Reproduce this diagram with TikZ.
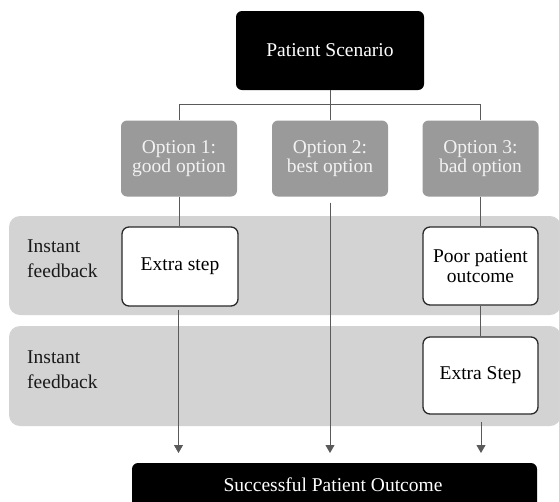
\documentclass[tikz,border=0pt]{standalone}
\usepackage{fontspec}
\setmainfont{Liberation Serif}
\usetikzlibrary{arrows.meta}
\definecolor{bandgray}{HTML}{D3D3D3}
\definecolor{optgray}{HTML}{9A9A9A}
\definecolor{opttext}{HTML}{F2F2F2}
\definecolor{linegray}{HTML}{5A5A5A}
\definecolor{boxline}{HTML}{2A2A2A}
\begin{document}
\begin{tikzpicture}[x=1pt,y=-1pt,
  every node/.style={font=\fontsize{19.5}{19.5}\selectfont},
  band/.style={fill=bandgray, draw=none, rounded corners=11pt},
  blackbox/.style={fill=black, text=white, rounded corners=6pt, inner sep=0pt, align=center},
  optbox/.style={fill=optgray, text=opttext, rounded corners=6pt, inner sep=0pt, align=center,
                 minimum width=116pt, minimum height=76pt},
  whitebox/.style={fill=white, draw=boxline, line width=1.3pt, rounded corners=7pt, inner sep=0pt,
                 align=center, minimum width=115pt, minimum height=78pt},
  lbl/.style={anchor=north west, inner sep=0pt, align=left, text=black!90,
              font=\fontsize{19.5}{25.5}\selectfont},
  conn/.style={draw=linegray, line width=0.8pt},
  arr/.style={conn, -{Triangle[width=9pt,length=8pt]}}
]
\useasboundingbox (0,0) rectangle (559,501);
\clip (0,0) rectangle (559,501);
% bands
\fill[band] (9,216) rectangle (561,315);
\fill[band] (9,326) rectangle (561,426);
\node[lbl] (l1) at (27,239.3) {Instant\\feedback};
\node[lbl] (l2) at (27,350.3) {Instant\\feedback};
% nodes
\node[blackbox, minimum width=188pt, minimum height=79pt] (ps) at (330,50.5) {Patient Scenario};
\node[optbox] (o1) at (179,158.5) {Option 1:\\good option};
\node[optbox] (o2) at (330,158.5) {Option 2:\\best option};
\node[optbox] (o3) at (480.5,158.5) {Option 3:\\bad option};
\node[whitebox, minimum width=116pt, minimum height=79pt] (e1) at (180,266.5) {Extra step};
\node[whitebox] (pp) at (480.5,266) {Poor patient\\outcome};
\node[whitebox, minimum height=77pt] (e2) at (480.5,375.5) {Extra Step};
\node[blackbox, minimum width=405pt, minimum height=60pt] (so) at (334.5,493) {};
\node[inner sep=0pt, text=white, anchor=base] (sot) at (333,491) {Successful Patient Outcome};
% connectors
\coordinate (hub) at (330,104.5);
\draw[conn] (ps.south) -- (hub);
\draw[conn] (o1.north) |- (hub) -| (o3.north);
\draw[conn] (hub) -- (o2.north);
\draw[conn] (o1.south) -- (e1.north -| o1.south);
\draw[conn] (o3.south) -- (pp.north);
\draw[conn] (pp.south) -- (e2.north);
\coordinate (t1) at (178.5,453);
\coordinate (t2) at (330,453);
\coordinate (t3) at (481,453);
\draw[arr, shorten <=3pt] (e1.south -| t1) -- (t1);
\draw[arr, shorten <=6pt] (o2.south) -- (t2);
\draw[arr, shorten <=7pt] (e2.south -| t3) -- (t3);
\end{tikzpicture}
\end{document}
